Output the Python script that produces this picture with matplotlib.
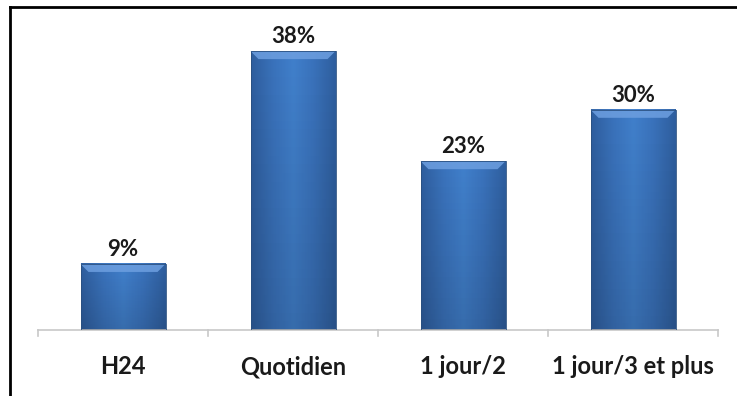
import numpy as np
import matplotlib.pyplot as plt
from matplotlib.colors import LinearSegmentedColormap
from matplotlib.patches import Polygon
from matplotlib.lines import Line2D

plt.rcParams['font.family'] = ['Lato', 'DejaVu Sans']

categories = ["H24", "Quotidien", "1 jour/2", "1 jour/3 et plus"]
values = [9, 38, 23, 30]
labels = ["9%", "38%", "23%", "30%"]

W, H = 737, 396
fig = plt.figure(figsize=(W / 100, H / 100), dpi=100)
ax = fig.add_axes([38 / W, 66 / H, 680 / W, 293.6 / H])

ymax = 40
ax.set_xlim(-0.5, len(categories) - 0.5)
ax.set_ylim(0, ymax)

# gradient bleu façon Excel (bords sombres, centre clair)
cmap = LinearSegmentedColormap.from_list(
    "bar", ["#2f5f9f", "#3a72bb", "#4180cc", "#3a72bb", "#2f5f9f"])
grad = np.linspace(0, 1, 64).reshape(1, -1)
bw = 0.5
px_x = len(categories) / 680
px_y = ymax / 293.6
for i, v in enumerate(values):
    x0, x1 = i - bw / 2, i + bw / 2
    ax.imshow(grad, cmap=cmap, extent=(x0, x1, 0, v), aspect="auto",
              interpolation="bicubic", zorder=2)
    # léger assombrissement vers le bas
    shade = np.linspace(0, 0.15, 32).reshape(-1, 1)
    ax.imshow(np.ones((32, 1)), cmap="Greys", vmin=0, vmax=1,
              alpha=shade, extent=(x0, x1, 0, v), aspect="auto", zorder=3)
    # biseau du haut
    bev_h = 8 * px_y
    bev_w = 8 * px_x
    ax.add_patch(Polygon([(x0, v), (x1, v), (x1 - bev_w, v - bev_h),
                          (x0 + bev_w, v - bev_h)], closed=True,
                         facecolor="#6d9fe0", edgecolor="none", alpha=0.85,
                         zorder=4))
    ax.plot([x0, x1, x1, x0, x0], [0, 0, v, v, 0], color="#2a5080",
            lw=0.6, zorder=5)
    ax.annotate(labels[i], (i, v), xytext=(0, 3), textcoords="offset points",
                ha="center", va="bottom", fontsize=16, fontweight="bold",
                color="#1a1a1a")

for s in ["top", "right", "left"]:
    ax.spines[s].set_visible(False)
ax.spines["bottom"].set_color("#c8c8c8")
ax.spines["bottom"].set_linewidth(1.2)
ax.set_yticks([])
ax.set_xticks(range(len(categories)))
ax.set_xticklabels(categories, fontsize=17, fontweight="bold", color="#1a1a1a")
ax.tick_params(axis="x", length=0, pad=18)
# graduations aux limites des catégories
for b in np.arange(-0.5, len(categories), 1.0):
    ax.plot([b, b], [0, -6 * px_y], color="#c8c8c8", lw=1.2, clip_on=False)

# cadre noir (haut et gauche)
fig.add_artist(Line2D([9.5 / W, 9.5 / W], [0, 1 - 7 / H], color="black",
                      lw=2, transform=fig.transFigure))
fig.add_artist(Line2D([9.5 / W, 1], [1 - 7 / H, 1 - 7 / H], color="black",
                      lw=2, transform=fig.transFigure))

fig.savefig("out.png", dpi=100)
